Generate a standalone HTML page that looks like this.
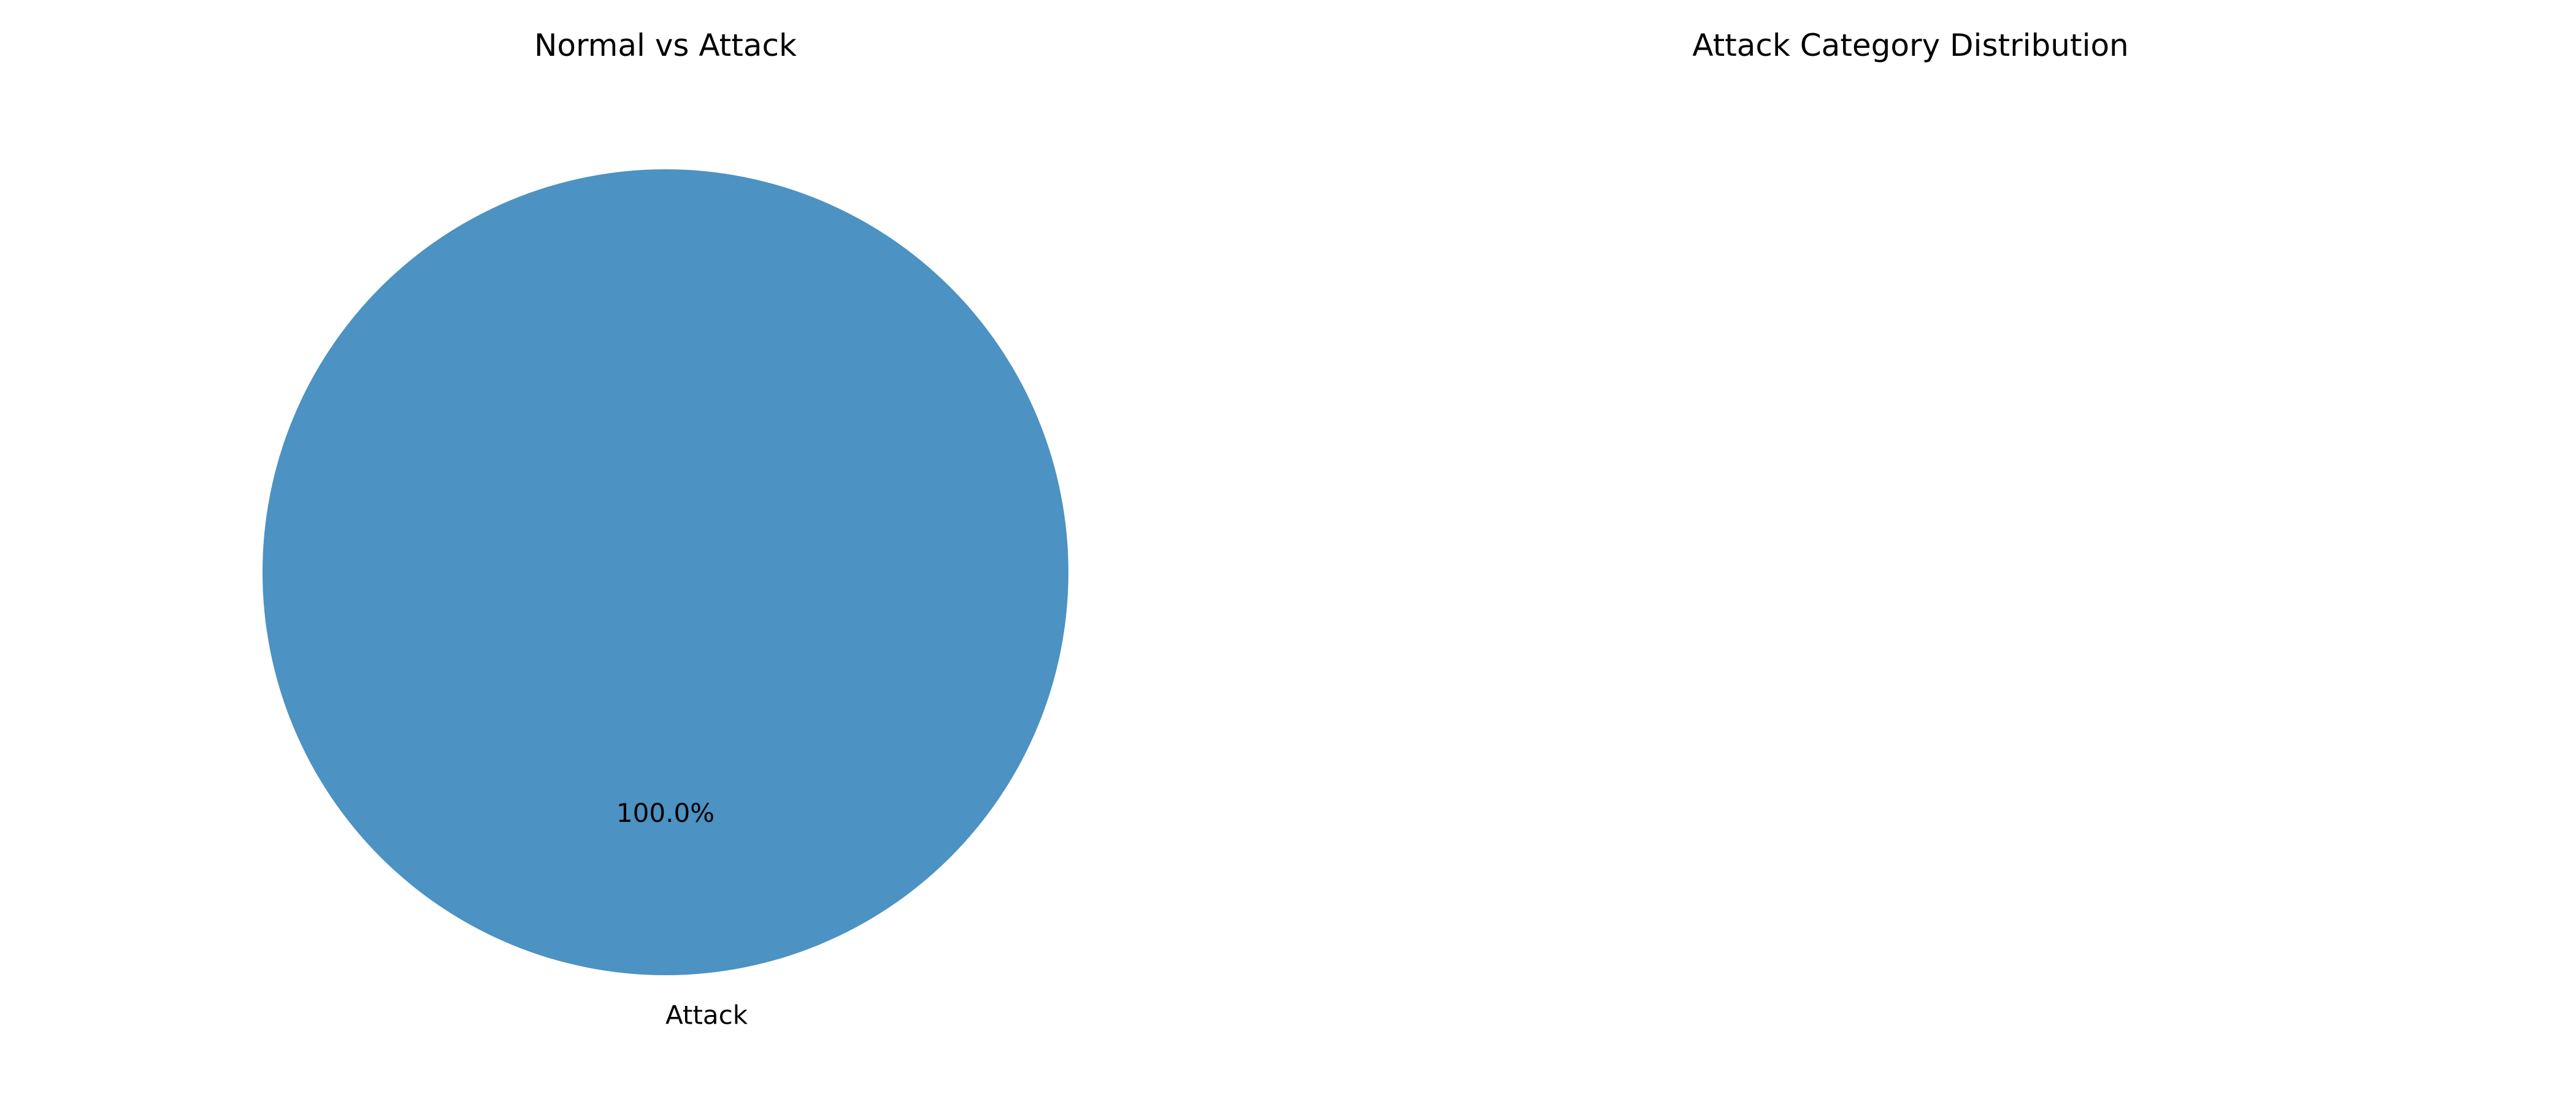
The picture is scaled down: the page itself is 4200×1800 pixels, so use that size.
<!DOCTYPE html>
<html>
<head>
<meta charset="utf-8">
<style>
  html,body{margin:0;padding:0;background:#fff;}
  svg{display:block;}
  text{font-family:"DejaVu Sans","Liberation Sans",sans-serif;fill:#000;}
</style>
</head>
<body>
<svg id="chart" width="4200" height="1800" viewBox="0 0 4200 1800" xmlns="http://www.w3.org/2000/svg">
  <rect width="4200" height="1800" fill="#fff"/>
  <text x="1085" y="91" font-size="50" text-anchor="middle">Normal vs Attack</text>
  <text x="3115" y="91" font-size="50" text-anchor="middle">Attack Category Distribution</text>
  <g id="pie1"></g>
  <g id="pie2"></g>
</svg>
<script>
const categories = ["Attack"];
const values = [100];
const colors = ["#4c92c3"];

const NS = "http://www.w3.org/2000/svg";
const cx = 1085, cy = 933, r = 657;
const startAngle = 90;
const g = document.getElementById('pie1');
const total = values.reduce((a, b) => a + b, 0);
function pt(deg, rad) {
  const a = deg * Math.PI / 180;
  return [cx + rad * Math.cos(a), cy - rad * Math.sin(a)];
}
let ang = startAngle;
values.forEach((v, i) => {
  const frac = v / total;
  const sweep = frac * 360;
  let el;
  if (frac >= 0.9999) {
    el = document.createElementNS(NS, 'circle');
    el.setAttribute('cx', cx); el.setAttribute('cy', cy); el.setAttribute('r', r);
  } else {
    el = document.createElementNS(NS, 'path');
    const [x1, y1] = pt(ang, r), [x2, y2] = pt(ang + sweep, r);
    el.setAttribute('d', `M${cx},${cy} L${x1},${y1} A${r},${r} 0 ${sweep > 180 ? 1 : 0} 0 ${x2},${y2} Z`);
  }
  el.setAttribute('fill', colors[i % colors.length]);
  
  
  g.appendChild(el);

  const mid = ang + sweep / 2;
  const [px, py] = pt(mid, r * 0.6);
  const pct = document.createElementNS(NS, 'text');
  pct.setAttribute('x', px); pct.setAttribute('y', py + 13);
  pct.setAttribute('font-size', '42'); pct.setAttribute('text-anchor', 'middle');
  pct.textContent = (frac * 100).toFixed(1) + '%';
  
  
  g.appendChild(pct);

  const [lx, ly] = pt(mid, r * 1.1);
  const lab = document.createElementNS(NS, 'text');
  const cosm = Math.cos(mid * Math.PI / 180);
  lab.setAttribute('x', lx); lab.setAttribute('y', ly + 14);
  lab.setAttribute('font-size', '42');
  lab.setAttribute('text-anchor', cosm < -0.001 ? 'end' : 'start');
  lab.textContent = categories[i];
  
  
  g.appendChild(lab);

  ang += sweep;
});
</script>
</body>
</html>
